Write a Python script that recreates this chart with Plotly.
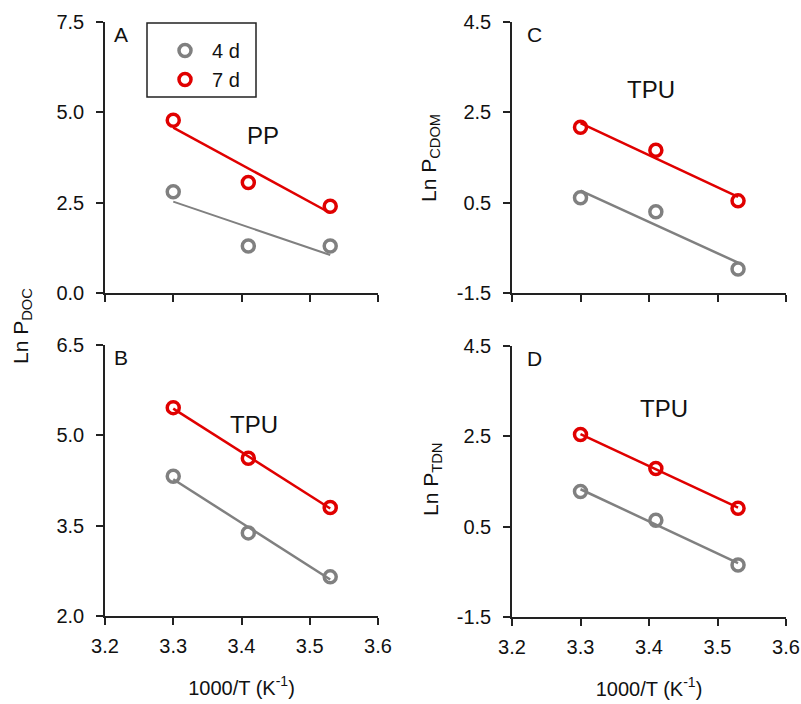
import numpy as np
import plotly.graph_objects as go

W, H = 801, 704

inv_T = [3.30, 3.41, 3.53]
series_names = ["4 d", "7 d"]
colors = {"4 d": "#808080", "7 d": "#e00000"}

A_4d = [2.80, 1.30, 1.30]
A_7d = [4.78, 3.06, 2.40]
B_4d = [4.32, 3.38, 2.65]
B_7d = [5.46, 4.62, 3.80]
C_4d = [0.61, 0.30, -0.97]
C_7d = [2.17, 1.66, 0.54]
D_4d = [1.28, 0.64, -0.35]
D_7d = [2.54, 1.79, 0.91]

xtick_vals = [3.2, 3.3, 3.4, 3.5, 3.6]
A_yticks = [0.0, 2.5, 5.0, 7.5]
B_yticks = [2.0, 3.5, 5.0, 6.5]
CD_yticks = [-1.5, 0.5, 2.5, 4.5]

FONT = "Liberation Sans, Arial, sans-serif"

def px_x(p):
    return p / W

def px_y(p):
    return 1 - p / H

def fmt(v):
    return ("%.1f" % v).replace("\u2212", "-")

# panel domains (pixels)
panels = {
    "A": dict(ax="", x=(105, 378), y=(22, 293), data=(A_4d, A_7d), yt=A_yticks, xlabels=False),
    "C": dict(ax="2", x=(512, 786), y=(22, 293), data=(C_4d, C_7d), yt=CD_yticks, xlabels=False),
    "B": dict(ax="3", x=(105, 378), y=(345, 616), data=(B_4d, B_7d), yt=B_yticks, xlabels=True),
    "D": dict(ax="4", x=(512, 786), y=(346, 617), data=(D_4d, D_7d), yt=CD_yticks, xlabels=True),
}

fig = go.Figure()
layout = {}
for name, p in panels.items():
    ax = p["ax"]
    xa = "x" + ax
    ya = "y" + ax
    for sname, vals in zip(series_names, p["data"]):
        c = colors[sname]
        k, b = np.polyfit(inv_T, vals, 1)
        xs = [min(inv_T), max(inv_T)]
        lw = 2.0 if (name == "A" and sname == "4 d") else 2.5
        fig.add_trace(go.Scatter(x=xs, y=[k * v + b for v in xs], mode="lines",
                                 line=dict(color=c, width=lw), showlegend=False,
                                 xaxis=xa, yaxis=ya, hoverinfo="skip"))
        fig.add_trace(go.Scatter(x=inv_T, y=vals, mode="markers",
                                 marker=dict(symbol="circle-open", size=12, color=c,
                                             line=dict(width=3.5, color=c)),
                                 name=sname, showlegend=(name == "A"),
                                 xaxis=xa, yaxis=ya))
    axis_common = dict(showline=True, linecolor="#222", linewidth=1.5, ticks="outside",
                       ticklen=7, tickwidth=1.5, tickcolor="#222", showgrid=False,
                       zeroline=False, automargin=False,
                       tickfont=dict(family=FONT, size=20, color="#111"))
    layout["xaxis" + ax] = dict(domain=[px_x(p["x"][0]), px_x(p["x"][1])], range=[3.2, 3.6],
                                tickvals=xtick_vals, ticktext=[fmt(v) for v in xtick_vals],
                                anchor=ya, showticklabels=p["xlabels"],
                                ticklabelstandoff=4, **axis_common)
    if p["xlabels"]:
        layout["xaxis" + ax]["title"] = dict(text="1000/T (K<sup>-1</sup>)",
                                             font=dict(family=FONT, size=20, color="#111"),
                                             standoff=25)
    layout["yaxis" + ax] = dict(domain=[px_y(p["y"][1]), px_y(p["y"][0])],
                                range=[p["yt"][0], p["yt"][-1]], tickvals=p["yt"],
                                ticktext=[fmt(v) for v in p["yt"]],
                                ticklabelstandoff=8, anchor=xa, **axis_common)

fig.update_layout(**layout)

ann = []
def add_text(text, x, y, size, xanchor="center", angle=0):
    ann.append(dict(text=text, x=px_x(x), y=px_y(y), xref="paper", yref="paper",
                    showarrow=False, xanchor=xanchor, yanchor="middle", textangle=angle,
                    font=dict(family=FONT, size=size, color="#111")))

add_text("A", 112, 34, 21, "left")
add_text("B", 112, 357, 21, "left")
add_text("C", 525, 34, 21, "left")
add_text("D", 525, 358, 21, "left")
add_text("PP", 263, 135, 24)
add_text("TPU", 651, 90, 24)
add_text("TPU", 254, 425, 24)
add_text("TPU", 664, 408, 24)
add_text("Ln P<sub>DOC</sub>", 22, 326, 21, angle=-90)
add_text("Ln P<sub>CDOM</sub>", 430, 158, 21, angle=-90)
add_text("Ln P<sub>TDN</sub>", 432, 480, 21, angle=-90)

fig.update_layout(
    width=W, height=H, margin=dict(l=0, r=0, t=0, b=0),
    paper_bgcolor="white", plot_bgcolor="white",
    annotations=ann,
    shapes=[dict(type="rect", xref="paper", yref="paper",
                 x0=px_x(147), x1=px_x(256), y0=px_y(97), y1=px_y(23),
                 line=dict(color="#222", width=1.5))],
    legend=dict(x=px_x(158), y=px_y(31), xanchor="left", yanchor="top",
                bgcolor="rgba(0,0,0,0)", borderwidth=0, itemwidth=44,
                font=dict(family=FONT, size=20, color="#111"), tracegroupgap=0),
    showlegend=True,
)

fig.write_html("out.html")
